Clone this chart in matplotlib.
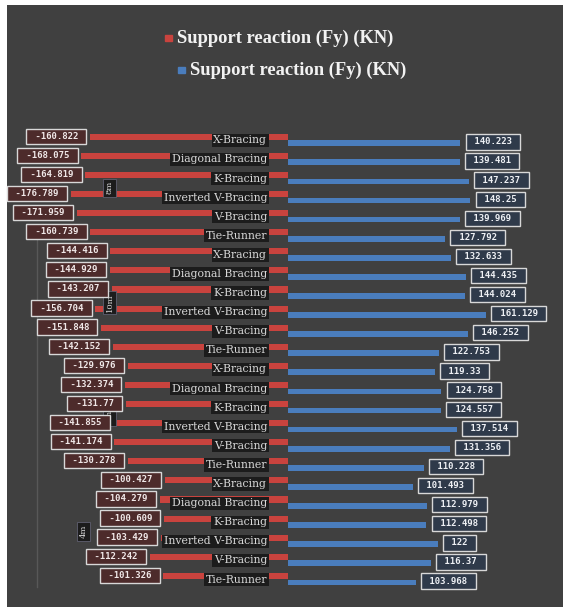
import matplotlib
matplotlib.use("Agg")
import matplotlib.pyplot as plt
import numpy as np

# bracing types, repeated for each of the 4 groups
bracing = ["X-Bracing", "Diagonal Bracing", "K-Bracing",
           "Inverted V-Bracing", "V-Bracing", "Tie-Runner"]
groups = ["8m", "10m", "6m", "4m"]

fy_neg = [-160.822, -168.075, -164.819, -176.789, -171.959, -160.739,
          -144.416, -144.929, -143.207, -156.704, -151.848, -142.152,
          -129.976, -132.374, -131.77, -141.855, -141.174, -130.278,
          -100.427, -104.279, -100.609, -103.429, -112.242, -101.326]
fy_pos = [140.223, 139.481, 147.237, 148.25, 139.969, 127.792,
          132.633, 144.435, 144.024, 161.129, 146.252, 122.753,
          119.33, 124.758, 124.557, 137.514, 131.356, 110.228,
          101.493, 112.979, 112.498, 122, 116.37, 103.968]

labels = bracing * len(groups)
y = np.arange(len(labels))

W, H = 569, 610
fig = plt.figure(figsize=(W / 100, H / 100), dpi=100, facecolor="white")
ax = fig.add_axes([7 / W, 3 / H, 556 / W, 602 / H])
ax.set_facecolor("#404040")

red = "#c9433e"
blue = "#4a7dbd"
ax.barh(y - 0.17, fy_neg, height=0.32, color=red, zorder=2)
ax.barh(y + 0.17, fy_pos, height=0.3, color=blue, zorder=2)

ax.set_xlim(-228.5, 223.6)
ax.set_ylim(24.46, -7.07)
for s in ax.spines.values():
    s.set_visible(False)
ax.set_xticks([])
ax.set_yticks([])

# faint group axis line
ax.plot([-204, -204], [5.2, 23.4], color="#585858", lw=1, zorder=1)

# value labels
for i in range(len(labels)):
    ax.annotate(f" {fy_neg[i]:g} ", (fy_neg[i], y[i] - 0.2), xytext=(-5, 0),
                textcoords="offset points", ha="right", va="center",
                fontsize=6.5, family="DejaVu Sans Mono", color="#f0e8e8",
                fontweight="bold", zorder=5,
                bbox=dict(boxstyle="square,pad=0.35", fc="#4d2b2b",
                          ec="#d8d8d8", lw=1))
    ax.annotate(f" {fy_pos[i]:g} ", (fy_pos[i], y[i] + 0.1), xytext=(6, 0),
                textcoords="offset points", ha="left", va="center",
                fontsize=6.5, family="DejaVu Sans Mono", color="#eef0f4",
                fontweight="bold", zorder=5,
                bbox=dict(boxstyle="square,pad=0.35", fc="#2f3a4a",
                          ec="#d8d8d8", lw=1))
    # category labels in the middle
    ax.text(-17, y[i] + 0.02, labels[i], ha="right", va="center",
            fontsize=7.8, family="DejaVu Serif", color="#d8d8d8", zorder=4,
            bbox=dict(boxstyle="square,pad=0.15", fc="#1c1c1c", ec="none"))

# group labels (the last one sits left of the short bars' labels)
group_x = [-145, -145, -145, -166]
for g, name in enumerate(groups):
    ax.text(group_x[g], g * 6 + 2.5, name, rotation=90, ha="center",
            va="center", fontsize=6, family="DejaVu Serif", color="#d8d8d8",
            zorder=4,
            bbox=dict(boxstyle="square,pad=0.3", fc="#1c1c1c", ec="#606070",
                      lw=0.6))

# legend, drawn by hand
legend_font = dict(fontsize=13.3, family="Liberation Serif",
                   fontweight="bold", color="#f2f2f2", va="center")
fig.text(177 / W, 1 - 38 / H, "Support reaction (Fy) (KN)", **legend_font)
fig.text(190 / W, 1 - 70 / H, "Support reaction (Fy) (KN)", **legend_font)
fig.patches.append(plt.Rectangle((165 / W, 1 - 41 / H), 7 / W, 6 / H,
                                 transform=fig.transFigure, color=red))
fig.patches.append(plt.Rectangle((178 / W, 1 - 73 / H), 7 / W, 6 / H,
                                 transform=fig.transFigure, color=blue))

fig.savefig("out.png", dpi=100, facecolor=fig.get_facecolor())
